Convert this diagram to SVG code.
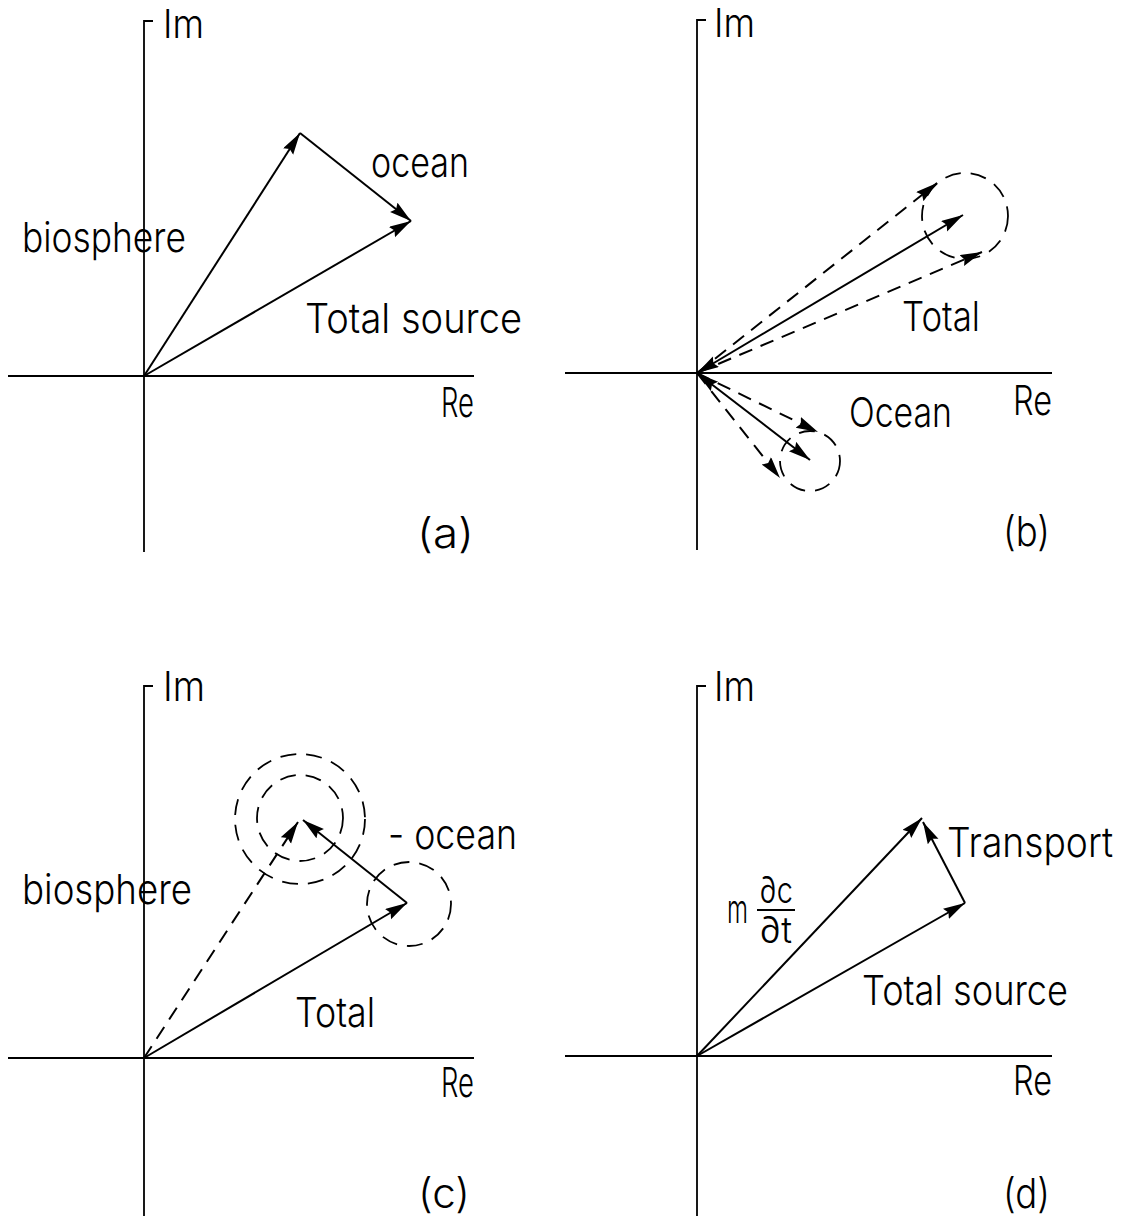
<svg xmlns="http://www.w3.org/2000/svg" width="1127" height="1218" viewBox="0 0 1127 1218">
<defs>
<marker id="ah" markerUnits="userSpaceOnUse" markerWidth="26" markerHeight="14" refX="22" refY="6" orient="auto-start-reverse">
<path d="M0,0 L22,6 L0,12 L3,6 z" fill="#000"/>
</marker>
<style>
.ax{stroke:#000;stroke-width:1.8;fill:none}
.v{stroke:#000;stroke-width:2;fill:none}
.d{stroke:#000;stroke-width:2;fill:none;stroke-dasharray:14 9}
.c{stroke:#000;stroke-width:1.8;fill:none;stroke-dasharray:16 10}
text{font-family:"Inter","Roboto","Liberation Sans",Arial,sans-serif;font-weight:300;font-size:41px;fill:#000}
</style>
</defs>
<rect width="1127" height="1218" fill="#fff"/>

<g id="panel-a">
<path class="ax" d="M153,21 H144 V552 M8,376 H474"/>
<text x="163" y="38" style="font-size:40px" textLength="41" lengthAdjust="spacingAndGlyphs">Im</text>
<text x="441" y="417" textLength="33" lengthAdjust="spacingAndGlyphs">Re</text>
<text x="417" y="548" textLength="57" lengthAdjust="spacingAndGlyphs">(a)</text>
<text x="371" y="177" textLength="98" lengthAdjust="spacingAndGlyphs">ocean</text>
<text x="22" y="252" textLength="164" lengthAdjust="spacingAndGlyphs">biosphere</text>
<text x="305" y="333" textLength="217" lengthAdjust="spacingAndGlyphs">Total source</text>
</g>

<g id="panel-b">
<path class="ax" d="M706,20 H697 V550 M565,373 H1052"/>
<text x="714" y="37" style="font-size:40px" textLength="41" lengthAdjust="spacingAndGlyphs">Im</text>
<text x="1013" y="415" textLength="39" lengthAdjust="spacingAndGlyphs">Re</text>
<text x="1003" y="546" textLength="47" lengthAdjust="spacingAndGlyphs">(b)</text>
<text x="902" y="331" textLength="78" lengthAdjust="spacingAndGlyphs">Total</text>
<text x="849" y="427" textLength="103" lengthAdjust="spacingAndGlyphs">Ocean</text>
<circle class="c" cx="965" cy="216" r="43"/>
<circle class="c" cx="810" cy="461" r="30"/>
</g>

<g id="panel-c">
<path class="ax" d="M153,686 H144 V1216 M8,1058 H474"/>
<text x="163" y="701" textLength="42" lengthAdjust="spacingAndGlyphs">Im</text>
<text x="441" y="1097" textLength="33" lengthAdjust="spacingAndGlyphs">Re</text>
<text x="418" y="1208" textLength="52" lengthAdjust="spacingAndGlyphs">(c)</text>
<text x="388" y="849" textLength="129" lengthAdjust="spacingAndGlyphs">- ocean</text>
<text x="22" y="904" textLength="170" lengthAdjust="spacingAndGlyphs">biosphere</text>
<text x="295" y="1027" textLength="80" lengthAdjust="spacingAndGlyphs">Total</text>
<circle class="c" cx="300" cy="818" r="43"/>
<circle class="c" cx="300" cy="819" r="65"/>
<circle class="c" cx="409" cy="904" r="42"/>
</g>

<g id="panel-d">
<path class="ax" d="M706,686 H697 V1216 M565,1056 H1052"/>
<text x="714" y="701" textLength="41" lengthAdjust="spacingAndGlyphs">Im</text>
<text x="1013" y="1095" textLength="39" lengthAdjust="spacingAndGlyphs">Re</text>
<text x="1003" y="1208" textLength="47" lengthAdjust="spacingAndGlyphs">(d)</text>
<text x="947" y="857" textLength="166" lengthAdjust="spacingAndGlyphs">Transport</text>
<text x="862" y="1005" textLength="206" lengthAdjust="spacingAndGlyphs">Total source</text>
<text x="727" y="923" style="font-size:40px" textLength="21" lengthAdjust="spacingAndGlyphs">m</text>
<text x="759" y="903" style="font-size:37px" textLength="34" lengthAdjust="spacingAndGlyphs">∂c</text>
<line class="ax" x1="757" y1="910" x2="795" y2="910"/>
<text x="759" y="943" style="font-size:37px" textLength="33" lengthAdjust="spacingAndGlyphs">∂t</text>
</g>

<g id="connectors">
<line class="v" x1="144" y1="376" x2="300" y2="133" marker-end="url(#ah)"/>
<line class="v" x1="300" y1="133" x2="411" y2="221" marker-end="url(#ah)"/>
<line class="v" x1="144" y1="376" x2="411" y2="221" marker-end="url(#ah)"/>

<line class="v" x1="697" y1="373" x2="963" y2="215" marker-start="url(#ah)" marker-end="url(#ah)"/>
<line class="d" x1="697" y1="373" x2="937" y2="183" marker-end="url(#ah)"/>
<line class="d" x1="697" y1="373" x2="982" y2="252" marker-end="url(#ah)"/>
<line class="v" x1="697" y1="373" x2="810" y2="460" marker-start="url(#ah)" marker-end="url(#ah)"/>
<line class="d" x1="697" y1="373" x2="818" y2="432" marker-end="url(#ah)"/>
<line class="d" x1="697" y1="373" x2="780" y2="478" marker-end="url(#ah)"/>

<line class="v" x1="144" y1="1058" x2="407" y2="903" marker-end="url(#ah)"/>
<line class="v" x1="407" y1="903" x2="303" y2="820" marker-end="url(#ah)"/>
<line class="d" x1="144" y1="1058" x2="298" y2="822" marker-end="url(#ah)"/>

<line class="v" x1="697" y1="1056" x2="922" y2="818" marker-end="url(#ah)"/>
<line class="v" x1="965" y1="903" x2="923" y2="822" marker-end="url(#ah)"/>
<line class="v" x1="697" y1="1056" x2="965" y2="903" marker-end="url(#ah)"/>
</g>
</svg>
